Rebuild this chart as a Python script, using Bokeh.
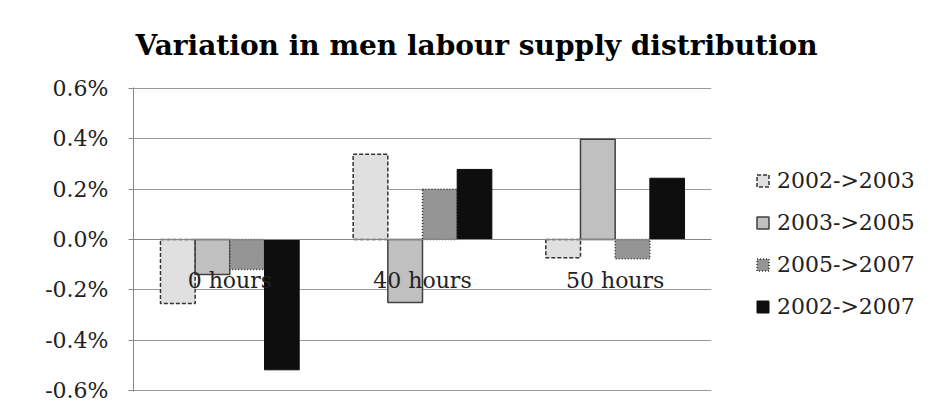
from bokeh.plotting import figure
from bokeh.models import ColumnDataSource, FactorRange, FixedTicker, PrintfTickFormatter, Legend, LegendItem
from bokeh.transform import dodge
from bokeh.embed import file_html
from bokeh.resources import INLINE

categories = ["0 hours", "40 hours", "50 hours"]
series = ["2002->2003", "2003->2005", "2005->2007", "2002->2007"]
v_2002_2003 = [-0.254, 0.338, -0.072]
v_2003_2005 = [-0.139, -0.250, 0.398]
v_2005_2007 = [-0.119, 0.199, -0.076]
v_2002_2007 = [-0.517, 0.278, 0.243]
y_ticks = [-0.6, -0.4, -0.2, 0.0, 0.2, 0.4, 0.6]

source = ColumnDataSource(dict(cat=categories, s1=v_2002_2003, s2=v_2003_2005,
                               s3=v_2005_2007, s4=v_2002_2007))

p = figure(x_range=FactorRange(*categories), y_range=(-0.603, 0.603),
           frame_width=578, frame_height=304, output_backend="svg", toolbar_location=None,
           min_border_left=133, min_border_right=0, min_border_top=87, min_border_bottom=17)
p.x_range.range_padding = 0

FONT = "DejaVu Serif"
p.title.text = "Variation in men labour supply distribution"
p.title.text_font = FONT
p.title.text_font_size = "28px"
p.title.text_font_style = "bold"
p.title.align = "left"
p.title.offset = 2
p.title.standoff = 52
p.title.text_color = "#000000"

w = 0.18
styles = [
    dict(field="s1", off=-1.5 * w, fill="#e0e0e0", line="#333333", dash="4 2", lw=1.5),
    dict(field="s2", off=-0.5 * w, fill="#c0c0c0", line="#404040", dash="solid", lw=1.5),
    dict(field="s3", off=0.5 * w, fill="#959595", line="#333333", dash="1 2", lw=1.5),
    dict(field="s4", off=1.5 * w, fill="#0e0e0e", line="#0e0e0e", dash="solid", lw=1),
]
items = []
for name, st in zip(series, styles):
    r = p.vbar(x=dodge("cat", st["off"], range=p.x_range), top=st["field"], bottom=0,
               width=w, source=source, fill_color=st["fill"], line_color=st["line"],
               line_dash=st["dash"], line_width=st["lw"])
    items.append(LegendItem(label=name, renderers=[r]))

legend = Legend(items=items, location=(34, 62))
legend.label_text_font = FONT
legend.label_text_font_size = "22px"
legend.label_text_color = "#222222"
legend.glyph_width = 15
legend.glyph_height = 15
legend.label_height = 26
legend.label_standoff = 7
legend.spacing = 16
legend.margin = 0
legend.padding = 10
legend.border_line_alpha = 0
legend.background_fill_alpha = 0
p.add_layout(legend, "right")

# y axis
p.yaxis.ticker = FixedTicker(ticks=y_ticks)
p.yaxis.formatter = PrintfTickFormatter(format="%.1f%%")
p.yaxis.major_label_text_font = FONT
p.yaxis.major_label_text_font_size = "22px"
p.yaxis.major_label_text_color = "#222222"
p.yaxis.axis_line_color = "#868686"
p.yaxis.major_tick_line_color = "#868686"
p.yaxis.major_tick_out = 5
p.yaxis.major_tick_in = 0
p.yaxis.minor_tick_line_color = None
p.yaxis.major_label_standoff = 20

# x axis at zero
p.xaxis.fixed_location = 0
p.xaxis.axis_line_color = "#868686"
p.xaxis.major_tick_line_color = None
p.xaxis.minor_tick_line_color = None
p.xaxis.major_label_text_font = FONT
p.xaxis.major_label_text_font_size = "22px"
p.xaxis.major_label_text_color = "#222222"
p.xaxis.major_label_standoff = 22

p.xgrid.grid_line_color = None
p.ygrid.ticker = FixedTicker(ticks=y_ticks)
p.ygrid.grid_line_color = "#9a9a9a"
p.outline_line_color = None
p.background_fill_color = "white"
p.border_fill_color = "white"

open("out.html", "w").write(file_html(p, INLINE))
